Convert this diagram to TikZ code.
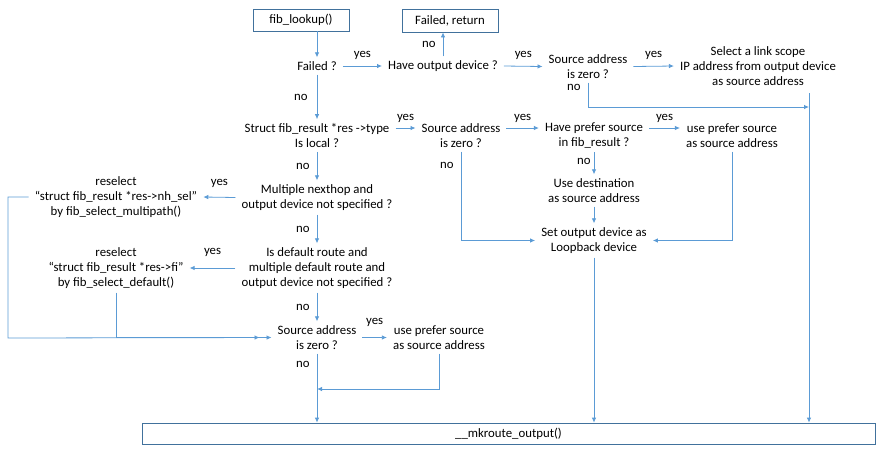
\documentclass[tikz,border=0pt]{standalone}
\usepackage{fontspec}
\setmainfont{Carlito}
\usetikzlibrary{arrows.meta,positioning}
\definecolor{linkblue}{RGB}{91,155,213}
\definecolor{boxblue}{RGB}{65,113,156}

\begin{document}
\begin{tikzpicture}[x=1pt,y=-1pt,font=\fontsize{12.8}{15}\selectfont]
	% node style definition
	\tikzstyle{box} = [draw=boxblue, line width=0.8pt, rectangle, minimum height=22pt, inner sep=0pt];
	\tikzstyle{cond} = [align=center, inner xsep=6pt, inner ysep=4pt];
	\tikzstyle{lbl} = [inner sep=1pt];
	\tikzstyle{wire} = [draw=linkblue, line width=0.8pt];
	\tikzstyle{arr} = [wire, -{Latex[length=5pt,width=4.5pt]}];
	\useasboundingbox (0,0) rectangle (880,451);
	% main column
	\node[box, minimum width=96pt] (lookup) at (301,20) {fib\_lookup()};
	\node[box, minimum width=96pt, minimum height=23pt] (fret) at (450,20.5) {Failed, return};
	\node[cond] (failed) at (317,66) {Failed ?};
	\node[cond] (haveout) at (443,66) {Have output device ?};
	\node[cond] (src1) at (588,66.5) {Source address\\is zero ?};
	\node[cond] (linkscope) at (758,66) {Select a link scope\\IP address from output device\\as source address};
	\node[cond] (struct) at (317,135.5) {Struct fib\_result *res ->type\\Is local ?};
	\node[cond] (src2) at (461,135.5) {Source address\\is zero ?};
	\node[cond] (prefer) at (594,135.5) {Have prefer source\\in fib\_result ?};
	\node[cond] (usepref1) at (732,135.5) {use prefer source\\as source address};
	\node[cond] (usedest) at (594,190.5) {Use destination\\as source address};
	\node[cond] (loopback) at (594,240.5) {Set output device as\\Loopback device};
	\node[cond] (multi) at (317,197.5) {Multiple nexthop and\\output device not specified ?};
	\node[cond] (resel1) at (116,197) {reselect\\“struct fib\_result *res->nh\_sel”\\by fib\_select\_multipath()};
	\node[cond] (isdef) at (317,268) {Is default route and\\multiple default route and\\output device not specified ?};
	\node[cond] (resel2) at (116,268) {reselect\\“struct fib\_result *res->fi”\\by fib\_select\_default()};
	\node[cond] (src3) at (317,337.5) {Source address\\is zero ?};
	\node[cond] (usepref2) at (439,337.5) {use prefer source\\as source address};
	\node[box, minimum width=733pt, minimum height=21pt] (mkroute) at (508.5,433.5) {\_\_mkroute\_output()};
	% free ends
	\coordinate (lsdrop) at (809,93);
	\coordinate (lsjoin) at (809,107);
	\coordinate (rail) at (8,338);
	\coordinate (merge) at (317,389);

	\draw[arr] (failed |- lookup.south) -- (failed.north);
	\draw[arr] (failed.east) -- node[lbl, midway, above=5pt] {yes} (haveout.west);
	\draw[arr] (haveout.north) -- node[lbl, midway, left=6pt] {no} (haveout.north |- fret.south);
	\draw[arr] (haveout.east) -- node[lbl, midway, above=5pt] {yes} (src1.west);
	\draw[arr] (src1.east) -- node[lbl, midway, above=5pt] {yes} (linkscope.west);
	\draw[arr] (src1.south) |- node[lbl, pos=0.1, left=6pt] {no} (lsjoin);
	\draw[arr] (lsdrop) -- (lsdrop |- mkroute.north);

	\draw[arr] (failed.south) -- node[lbl, midway, left=8pt] {no} (struct.north);
	\draw[arr] ([yshift=7.5pt]struct.east) -- node[lbl, midway, above=4pt] {yes} ([yshift=7.5pt]src2.west);
	\draw[arr] ([yshift=7.5pt]src2.east) -- node[lbl, midway, above=4pt] {yes} ([yshift=7.5pt]prefer.west);
	\draw[arr] ([yshift=7.5pt]prefer.east) -- node[lbl, midway, above=4pt] {yes} ([yshift=7.5pt]usepref1.west);
	\draw[arr] (prefer.south) -- node[lbl, pos=0.4, left=2pt] {no} (usedest.north);
	\draw[arr] (usedest.south) -- (loopback.north);
	\draw[arr] (src2.south) |- node[lbl, pos=0.08, left=6pt] {no} (loopback.west);
	\draw[arr] (usepref1.south) |- (loopback.east);
	\draw[arr] (loopback.south) -- (loopback.south |- mkroute.north);

	\draw[arr] (struct.south) -- node[lbl, midway, left=6pt] {no} (multi.north);
	\draw[arr] (multi.west) -- node[lbl, midway, above=8pt] {yes} (resel1.east);
	\draw[arr] (multi.south) -- node[lbl, midway, left=6pt] {no} (isdef.north);
	\draw[arr] (isdef.west) -- node[lbl, midway, above=10pt] {yes} (resel2.east);
	\draw[arr] (resel1.west) -| (rail) -- (src3.west);
	\draw[arr, shorten >=12pt] (resel2.south) |- (src3.west);
	\draw[arr] (isdef.south) -- node[lbl, midway, left=6pt] {no} (src3.north);
	\draw[arr] (src3.east) -- node[lbl, midway, above=10pt] {yes} (usepref2.west);
	\draw[arr] (src3.south) -- node[lbl, pos=0.15, left=6pt] {no} (src3.south |- mkroute.north);
	\draw[arr] (usepref2.south) |- (merge);
	\end{tikzpicture}
\end{document}
